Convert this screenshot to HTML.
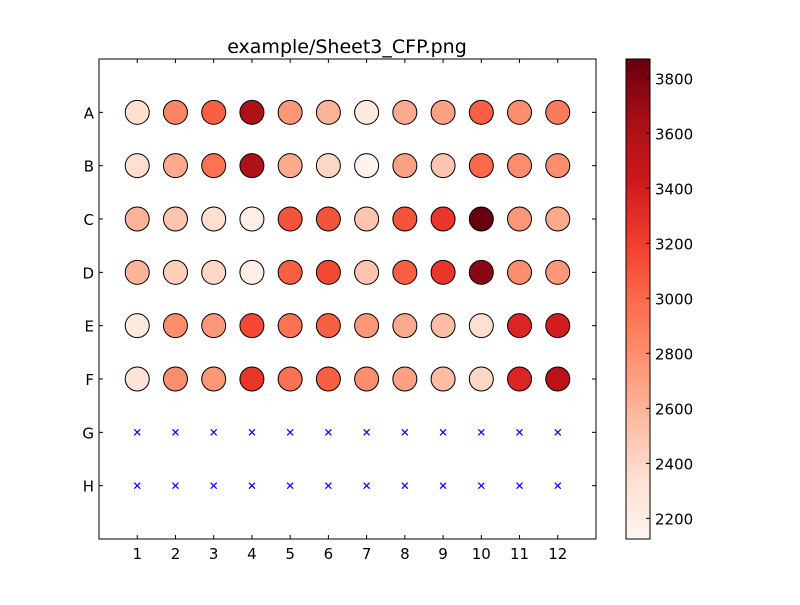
<!DOCTYPE html>
<html><head><meta charset="utf-8"><style>
body{margin:0;background:#fff;}
svg text{font-family:"DejaVu Sans","Liberation Sans",sans-serif;}
</style></head><body>
<svg id="chart" width="800" height="600" xmlns="http://www.w3.org/2000/svg">
<rect width="800" height="600" fill="#fff"/>
<text x="347" y="53" font-size="19" text-anchor="middle">example/Sheet3_CFP.png</text>
<g id="plot"></g>
<g id="cbar"></g>
</svg>
<script>
const rows=['A','B','C','D','E','F','G','H'];
const cols=[1,2,3,4,5,6,7,8,9,10,11,12];
const valA=[2350,2850,3050,3600,2750,2600,2250,2650,2700,3050,2800,2900];
const valB=[2350,2650,2950,3600,2650,2400,2150,2700,2500,3000,2800,2800];
const valC=[2600,2500,2350,2200,3100,3100,2500,3100,3250,3870,2750,2650];
const valD=[2600,2450,2400,2200,3050,3150,2500,3050,3250,3750,2800,2750];
const valE=[2250,2800,2750,3150,2950,3050,2750,2650,2550,2350,3350,3400];
const valF=[2300,2800,2750,3250,2950,3050,2800,2700,2550,2400,3350,3550];
const values=[valA,valB,valC,valD,valE,valF,null,null];
const cbTicks=[2200,2400,2600,2800,3000,3200,3400,3600,3800];
const vmin=2125, vmax=3870;

const NS='http://www.w3.org/2000/svg';
const AX={l:99,r:596,t:59,b:539};
const sx=v=>AX.l+v/13*(AX.r-AX.l);
const sy=v=>AX.t+v/9*(AX.b-AX.t);
const reds=['#fff5f0','#fee0d2','#fcbba1','#fc9272','#fb6a4a','#ef3b2c','#cb181d','#a50f15','#67000d'];
function hex(h){return [1,3,5].map(i=>parseInt(h.substr(i,2),16));}
function cmap(v){let t=Math.max(0,Math.min(1,(v-vmin)/(vmax-vmin)))*8;let i=Math.min(7,Math.floor(t));let f=t-i;
const a=hex(reds[i]),b=hex(reds[i+1]);return 'rgb('+a.map((x,k)=>Math.round(x+(b[k]-x)*f)).join(',')+')';}
function el(tag,attrs,parent){const e=document.createElementNS(NS,tag);for(const k in attrs)e.setAttribute(k,attrs[k]);parent.appendChild(e);return e;}
const plot=document.getElementById('plot');
el('rect',{x:AX.l,y:AX.t,width:AX.r-AX.l,height:AX.b-AX.t,fill:'none',stroke:'#000','stroke-width':1},plot);
cols.forEach((c,i)=>{const x=sx(c);
 el('line',{x1:x,x2:x,y1:AX.b,y2:AX.b-4,stroke:'#000'},plot);
 el('line',{x1:x,x2:x,y1:AX.t,y2:AX.t+4,stroke:'#000'},plot);
 const t=el('text',{x:x,y:AX.b+20,'font-size':15,'text-anchor':'middle'},plot);t.textContent=c;
 
 
});
rows.forEach((r,j)=>{const y=sy(j+1);
 el('line',{x1:AX.l,x2:AX.l+4,y1:y,y2:y,stroke:'#000'},plot);
 el('line',{x1:AX.r,x2:AX.r-4,y1:y,y2:y,stroke:'#000'},plot);
 const t=el('text',{x:AX.l-5,y:y+6,'font-size':15,'text-anchor':'end'},plot);t.textContent=r;
 
 
 cols.forEach((c,i)=>{const x=sx(c);
  if(values[j]){const m=el('circle',{cx:x,cy:y,r:12,fill:cmap(values[j][i]),stroke:'#000','stroke-width':1},plot);
   
   }
  else{const g=el('path',{d:`M${x-3},${y-3}L${x+3},${y+3}M${x-3},${y+3}L${x+3},${y-3}`,stroke:'#0000ff','stroke-width':1.2},plot);
   
   }
 });
});
const cb=document.getElementById('cbar');
const CB={l:626,r:650,t:59,b:539};
const defs=el('defs',{},cb);
const lg=el('linearGradient',{id:'g',x1:0,y1:1,x2:0,y2:0},defs);
reds.forEach((c,i)=>el('stop',{offset:i/8,'stop-color':c},lg));
const bar=el('rect',{x:CB.l,y:CB.t,width:CB.r-CB.l,height:CB.b-CB.t,fill:'url(#g)',stroke:'#000'},cb);


const cy=v=>CB.b-(v-vmin)/(vmax-vmin)*(CB.b-CB.t);
cbTicks.forEach(v=>{const y=cy(v);
 el('line',{x1:CB.r,x2:CB.r-4,y1:y,y2:y,stroke:'#000'},cb);
 const t=el('text',{x:CB.r+5,y:y+6,'font-size':15},cb);t.textContent=v;
 
 
});
</script>
</body></html>
